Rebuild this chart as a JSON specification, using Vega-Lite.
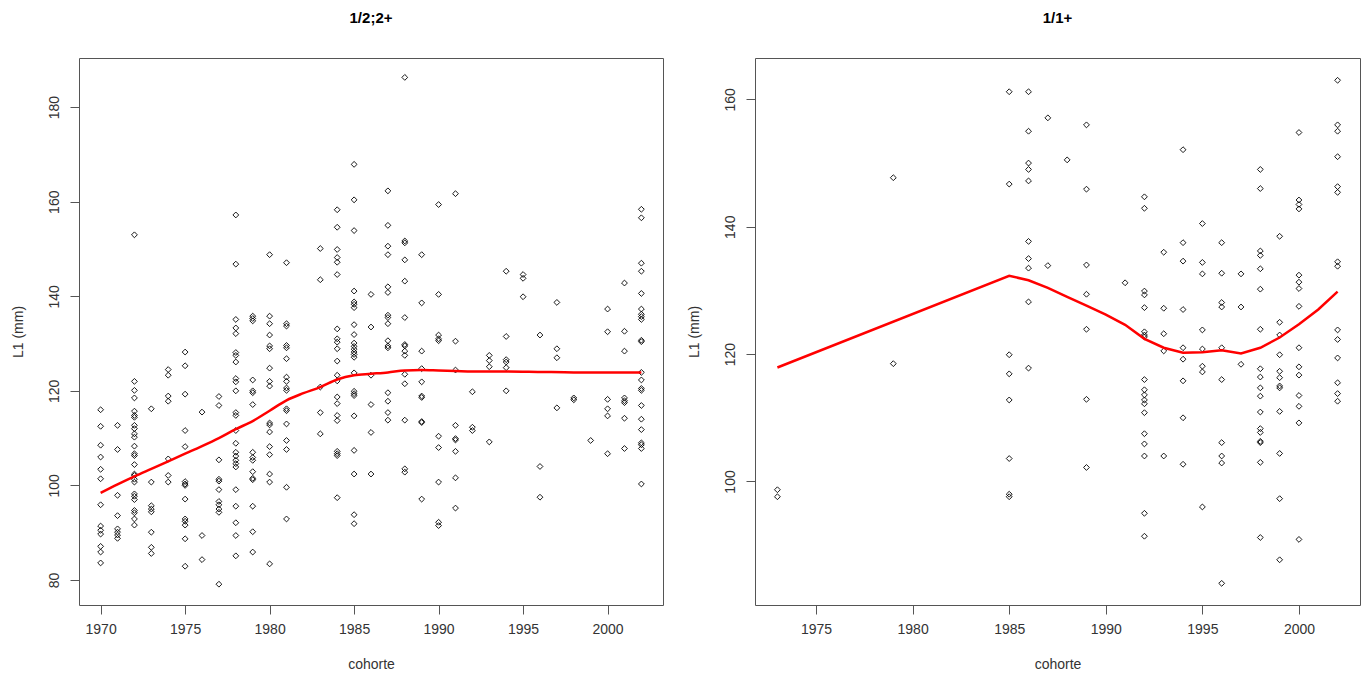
{
  "$schema": "https://vega.github.io/schema/vega-lite/v6.json",
  "background": "white",
  "padding": {"left": 10, "top": 10, "right": 5, "bottom": 5},
  "spacing": 92,
  "bounds": "flush",
  "config": {
    "view": {"stroke": "#555", "strokeWidth": 1},
    "font": "Liberation Sans",
    "axis": {
      "grid": false, "domain": false, "tickColor": "#555", "tickSize": 9,
      "labelFont": "Liberation Sans", "labelFontSize": 14, "labelColor": "#333",
      "titleFont": "Liberation Sans", "titleFontSize": 14, "titleFontWeight": "normal", "titleColor": "#333",
      "labelOverlap": false
    },
    "axisX": {"labelPadding": 8, "titlePadding": 21, "labelFlush": false},
    "axisY": {"labelAngle": -90, "labelAlign": "center", "labelBaseline": "bottom", "labelPadding": 9, "titlePadding": 22},
    "title": {"fontSize": 15, "fontWeight": "bold", "color": "#000", "font": "Liberation Sans", "baseline": "alphabetic", "offset": 32, "anchor": "middle", "frame": "group"}
  },
  "datasets": {
    "left": [
      {"cohorte":1970,"L1":116.0},{"cohorte":1970,"L1":112.5},{"cohorte":1970,"L1":108.5},{"cohorte":1970,"L1":106.0},{"cohorte":1970,"L1":103.4},{"cohorte":1970,"L1":101.4},{"cohorte":1970,"L1":95.9},{"cohorte":1970,"L1":91.4},{"cohorte":1970,"L1":90.5},{"cohorte":1970,"L1":89.7},{"cohorte":1970,"L1":87.1},{"cohorte":1970,"L1":85.9},{"cohorte":1970,"L1":83.6},
      {"cohorte":1971,"L1":112.7},{"cohorte":1971,"L1":107.6},{"cohorte":1971,"L1":97.9},{"cohorte":1971,"L1":93.6},{"cohorte":1971,"L1":90.8},{"cohorte":1971,"L1":90.1},{"cohorte":1971,"L1":89.5},{"cohorte":1971,"L1":88.8},
      {"cohorte":1972,"L1":153.0},{"cohorte":1972,"L1":122.0},{"cohorte":1972,"L1":120.1},{"cohorte":1972,"L1":118.5},{"cohorte":1972,"L1":115.7},{"cohorte":1972,"L1":114.8},{"cohorte":1972,"L1":114.4},{"cohorte":1972,"L1":112.7},{"cohorte":1972,"L1":112.0},{"cohorte":1972,"L1":110.9},{"cohorte":1972,"L1":110.2},{"cohorte":1972,"L1":108.3},{"cohorte":1972,"L1":106.7},{"cohorte":1972,"L1":106.3},{"cohorte":1972,"L1":104.4},{"cohorte":1972,"L1":102.4},{"cohorte":1972,"L1":102.1},{"cohorte":1972,"L1":101.3},{"cohorte":1972,"L1":100.7},{"cohorte":1972,"L1":98.2},{"cohorte":1972,"L1":97.7},{"cohorte":1972,"L1":97.0},{"cohorte":1972,"L1":94.7},{"cohorte":1972,"L1":94.2},{"cohorte":1972,"L1":92.9},{"cohorte":1972,"L1":91.6},
      {"cohorte":1973,"L1":116.2},{"cohorte":1973,"L1":100.7},{"cohorte":1973,"L1":95.7},{"cohorte":1973,"L1":95.0},{"cohorte":1973,"L1":94.4},{"cohorte":1973,"L1":90.1},{"cohorte":1973,"L1":86.9},{"cohorte":1973,"L1":85.6},
      {"cohorte":1974,"L1":124.5},{"cohorte":1974,"L1":123.3},{"cohorte":1974,"L1":118.9},{"cohorte":1974,"L1":117.8},{"cohorte":1974,"L1":105.6},{"cohorte":1974,"L1":102.1},{"cohorte":1974,"L1":100.7},
      {"cohorte":1975,"L1":128.2},{"cohorte":1975,"L1":125.3},{"cohorte":1975,"L1":119.3},{"cohorte":1975,"L1":111.6},{"cohorte":1975,"L1":108.2},{"cohorte":1975,"L1":100.8},{"cohorte":1975,"L1":100.3},{"cohorte":1975,"L1":100.0},{"cohorte":1975,"L1":97.1},{"cohorte":1975,"L1":92.9},{"cohorte":1975,"L1":92.4},{"cohorte":1975,"L1":91.6},{"cohorte":1975,"L1":88.7},{"cohorte":1975,"L1":82.9},
      {"cohorte":1976,"L1":115.5},{"cohorte":1976,"L1":89.4},{"cohorte":1976,"L1":84.3},
      {"cohorte":1977,"L1":118.8},{"cohorte":1977,"L1":116.9},{"cohorte":1977,"L1":105.4},{"cohorte":1977,"L1":101.3},{"cohorte":1977,"L1":100.9},{"cohorte":1977,"L1":99.1},{"cohorte":1977,"L1":96.6},{"cohorte":1977,"L1":95.9},{"cohorte":1977,"L1":95.0},{"cohorte":1977,"L1":94.3},{"cohorte":1977,"L1":79.1},
      {"cohorte":1978,"L1":157.2},{"cohorte":1978,"L1":146.8},{"cohorte":1978,"L1":135.1},{"cohorte":1978,"L1":133.3},{"cohorte":1978,"L1":132.1},{"cohorte":1978,"L1":128.1},{"cohorte":1978,"L1":127.5},{"cohorte":1978,"L1":126.1},{"cohorte":1978,"L1":122.6},{"cohorte":1978,"L1":121.9},{"cohorte":1978,"L1":120.0},{"cohorte":1978,"L1":115.4},{"cohorte":1978,"L1":114.8},{"cohorte":1978,"L1":111.6},{"cohorte":1978,"L1":108.9},{"cohorte":1978,"L1":107.0},{"cohorte":1978,"L1":106.2},{"cohorte":1978,"L1":105.3},{"cohorte":1978,"L1":104.6},{"cohorte":1978,"L1":103.9},{"cohorte":1978,"L1":99.1},{"cohorte":1978,"L1":95.6},{"cohorte":1978,"L1":92.1},{"cohorte":1978,"L1":89.4},{"cohorte":1978,"L1":85.1},
      {"cohorte":1979,"L1":135.8},{"cohorte":1979,"L1":135.3},{"cohorte":1979,"L1":134.8},{"cohorte":1979,"L1":122.3},{"cohorte":1979,"L1":120.0},{"cohorte":1979,"L1":119.6},{"cohorte":1979,"L1":117.1},{"cohorte":1979,"L1":107.0},{"cohorte":1979,"L1":105.9},{"cohorte":1979,"L1":105.3},{"cohorte":1979,"L1":102.9},{"cohorte":1979,"L1":101.5},{"cohorte":1979,"L1":101.2},{"cohorte":1979,"L1":95.6},{"cohorte":1979,"L1":90.2},{"cohorte":1979,"L1":85.9},
      {"cohorte":1980,"L1":148.8},{"cohorte":1980,"L1":135.8},{"cohorte":1980,"L1":134.2},{"cohorte":1980,"L1":131.8},{"cohorte":1980,"L1":129.5},{"cohorte":1980,"L1":128.9},{"cohorte":1980,"L1":124.8},{"cohorte":1980,"L1":122.0},{"cohorte":1980,"L1":121.0},{"cohorte":1980,"L1":113.2},{"cohorte":1980,"L1":112.8},{"cohorte":1980,"L1":111.3},{"cohorte":1980,"L1":108.2},{"cohorte":1980,"L1":106.5},{"cohorte":1980,"L1":102.4},{"cohorte":1980,"L1":100.7},{"cohorte":1980,"L1":83.4},
      {"cohorte":1981,"L1":147.1},{"cohorte":1981,"L1":134.2},{"cohorte":1981,"L1":133.7},{"cohorte":1981,"L1":129.6},{"cohorte":1981,"L1":129.1},{"cohorte":1981,"L1":126.8},{"cohorte":1981,"L1":122.9},{"cohorte":1981,"L1":122.0},{"cohorte":1981,"L1":120.6},{"cohorte":1981,"L1":120.1},{"cohorte":1981,"L1":116.2},{"cohorte":1981,"L1":115.8},{"cohorte":1981,"L1":113.0},{"cohorte":1981,"L1":109.5},{"cohorte":1981,"L1":107.6},{"cohorte":1981,"L1":99.6},{"cohorte":1981,"L1":92.9},
      {"cohorte":1983,"L1":150.1},{"cohorte":1983,"L1":143.5},{"cohorte":1983,"L1":120.8},{"cohorte":1983,"L1":115.4},{"cohorte":1983,"L1":110.9},
      {"cohorte":1984,"L1":158.3},{"cohorte":1984,"L1":154.6},{"cohorte":1984,"L1":149.9},{"cohorte":1984,"L1":148.2},{"cohorte":1984,"L1":147.2},{"cohorte":1984,"L1":144.6},{"cohorte":1984,"L1":133.1},{"cohorte":1984,"L1":131.0},{"cohorte":1984,"L1":130.3},{"cohorte":1984,"L1":128.9},{"cohorte":1984,"L1":126.3},{"cohorte":1984,"L1":123.3},{"cohorte":1984,"L1":122.1},{"cohorte":1984,"L1":118.7},{"cohorte":1984,"L1":117.3},{"cohorte":1984,"L1":114.8},{"cohorte":1984,"L1":113.7},{"cohorte":1984,"L1":107.2},{"cohorte":1984,"L1":106.7},{"cohorte":1984,"L1":106.3},{"cohorte":1984,"L1":97.4},
      {"cohorte":1985,"L1":167.9},{"cohorte":1985,"L1":160.4},{"cohorte":1985,"L1":153.9},{"cohorte":1985,"L1":141.1},{"cohorte":1985,"L1":138.8},{"cohorte":1985,"L1":138.3},{"cohorte":1985,"L1":137.6},{"cohorte":1985,"L1":134.0},{"cohorte":1985,"L1":131.9},{"cohorte":1985,"L1":130.1},{"cohorte":1985,"L1":129.4},{"cohorte":1985,"L1":128.8},{"cohorte":1985,"L1":128.2},{"cohorte":1985,"L1":127.7},{"cohorte":1985,"L1":127.1},{"cohorte":1985,"L1":123.8},{"cohorte":1985,"L1":119.9},{"cohorte":1985,"L1":119.4},{"cohorte":1985,"L1":119.0},{"cohorte":1985,"L1":114.7},{"cohorte":1985,"L1":107.4},{"cohorte":1985,"L1":102.4},{"cohorte":1985,"L1":93.8},{"cohorte":1985,"L1":91.9},
      {"cohorte":1986,"L1":140.4},{"cohorte":1986,"L1":133.5},{"cohorte":1986,"L1":123.3},{"cohorte":1986,"L1":117.1},{"cohorte":1986,"L1":111.2},{"cohorte":1986,"L1":102.4},
      {"cohorte":1987,"L1":162.3},{"cohorte":1987,"L1":155.0},{"cohorte":1987,"L1":150.6},{"cohorte":1987,"L1":148.8},{"cohorte":1987,"L1":142.0},{"cohorte":1987,"L1":140.8},{"cohorte":1987,"L1":136.0},{"cohorte":1987,"L1":135.5},{"cohorte":1987,"L1":134.2},{"cohorte":1987,"L1":130.6},{"cohorte":1987,"L1":129.5},{"cohorte":1987,"L1":129.1},{"cohorte":1987,"L1":119.6},{"cohorte":1987,"L1":117.8},{"cohorte":1987,"L1":115.4},{"cohorte":1987,"L1":113.8},
      {"cohorte":1988,"L1":186.3},{"cohorte":1988,"L1":151.7},{"cohorte":1988,"L1":151.3},{"cohorte":1988,"L1":147.7},{"cohorte":1988,"L1":143.2},{"cohorte":1988,"L1":135.5},{"cohorte":1988,"L1":129.8},{"cohorte":1988,"L1":129.5},{"cohorte":1988,"L1":128.4},{"cohorte":1988,"L1":127.5},{"cohorte":1988,"L1":123.5},{"cohorte":1988,"L1":121.5},{"cohorte":1988,"L1":113.8},{"cohorte":1988,"L1":103.5},{"cohorte":1988,"L1":102.8},
      {"cohorte":1989,"L1":148.8},{"cohorte":1989,"L1":138.6},{"cohorte":1989,"L1":128.4},{"cohorte":1989,"L1":124.7},{"cohorte":1989,"L1":121.9},{"cohorte":1989,"L1":118.9},{"cohorte":1989,"L1":118.6},{"cohorte":1989,"L1":113.5},{"cohorte":1989,"L1":113.3},{"cohorte":1989,"L1":97.1},
      {"cohorte":1990,"L1":159.4},{"cohorte":1990,"L1":140.4},{"cohorte":1990,"L1":131.8},{"cohorte":1990,"L1":131.0},{"cohorte":1990,"L1":130.6},{"cohorte":1990,"L1":110.4},{"cohorte":1990,"L1":108.0},{"cohorte":1990,"L1":100.7},{"cohorte":1990,"L1":92.2},{"cohorte":1990,"L1":91.5},
      {"cohorte":1991,"L1":161.7},{"cohorte":1991,"L1":130.5},{"cohorte":1991,"L1":124.4},{"cohorte":1991,"L1":112.7},{"cohorte":1991,"L1":109.9},{"cohorte":1991,"L1":109.6},{"cohorte":1991,"L1":107.2},{"cohorte":1991,"L1":101.6},{"cohorte":1991,"L1":95.2},
      {"cohorte":1992,"L1":119.8},{"cohorte":1992,"L1":112.3},{"cohorte":1992,"L1":111.6},
      {"cohorte":1993,"L1":127.5},{"cohorte":1993,"L1":126.4},{"cohorte":1993,"L1":125.1},{"cohorte":1993,"L1":109.2},
      {"cohorte":1994,"L1":145.3},{"cohorte":1994,"L1":131.5},{"cohorte":1994,"L1":126.6},{"cohorte":1994,"L1":126.1},{"cohorte":1994,"L1":124.9},{"cohorte":1994,"L1":120.0},
      {"cohorte":1995,"L1":144.6},{"cohorte":1995,"L1":143.8},{"cohorte":1995,"L1":139.9},
      {"cohorte":1996,"L1":131.8},{"cohorte":1996,"L1":104.0},{"cohorte":1996,"L1":97.5},
      {"cohorte":1997,"L1":138.7},{"cohorte":1997,"L1":128.9},{"cohorte":1997,"L1":127.0},{"cohorte":1997,"L1":116.4},
      {"cohorte":1998,"L1":118.5},{"cohorte":1998,"L1":118.1},
      {"cohorte":1999,"L1":109.5},
      {"cohorte":2000,"L1":137.3},{"cohorte":2000,"L1":132.5},{"cohorte":2000,"L1":118.2},{"cohorte":2000,"L1":116.2},{"cohorte":2000,"L1":114.7},{"cohorte":2000,"L1":106.7},
      {"cohorte":2001,"L1":142.8},{"cohorte":2001,"L1":132.6},{"cohorte":2001,"L1":128.4},{"cohorte":2001,"L1":118.5},{"cohorte":2001,"L1":117.9},{"cohorte":2001,"L1":117.5},{"cohorte":2001,"L1":114.2},{"cohorte":2001,"L1":107.8},
      {"cohorte":2002,"L1":158.4},{"cohorte":2002,"L1":156.6},{"cohorte":2002,"L1":147.0},{"cohorte":2002,"L1":145.3},{"cohorte":2002,"L1":140.6},{"cohorte":2002,"L1":137.3},{"cohorte":2002,"L1":136.2},{"cohorte":2002,"L1":135.7},{"cohorte":2002,"L1":135.1},{"cohorte":2002,"L1":130.7},{"cohorte":2002,"L1":130.4},{"cohorte":2002,"L1":123.9},{"cohorte":2002,"L1":122.3},{"cohorte":2002,"L1":120.5},{"cohorte":2002,"L1":120.1},{"cohorte":2002,"L1":116.9},{"cohorte":2002,"L1":114.0},{"cohorte":2002,"L1":111.8},{"cohorte":2002,"L1":109.0},{"cohorte":2002,"L1":108.6},{"cohorte":2002,"L1":107.8},{"cohorte":2002,"L1":100.3}
    ],
    "leftfit": [
      {"cohorte":1970,"L1":98.4},{"cohorte":1971,"L1":100.2},{"cohorte":1972,"L1":101.9},{"cohorte":1973,"L1":103.5},{"cohorte":1974,"L1":105.1},{"cohorte":1975,"L1":106.7},{"cohorte":1976,"L1":108.3},{"cohorte":1977,"L1":110.0},{"cohorte":1978,"L1":111.9},{"cohorte":1979,"L1":113.6},{"cohorte":1980,"L1":115.8},{"cohorte":1981,"L1":118.0},{"cohorte":1982,"L1":119.5},{"cohorte":1983,"L1":120.8},{"cohorte":1984,"L1":122.4},{"cohorte":1985,"L1":123.3},{"cohorte":1986,"L1":123.6},{"cohorte":1987,"L1":123.9},{"cohorte":1988,"L1":124.3},{"cohorte":1989,"L1":124.4},{"cohorte":1990,"L1":124.3},{"cohorte":1991,"L1":124.2},{"cohorte":1992,"L1":124.1},{"cohorte":1994,"L1":124.1},{"cohorte":1996,"L1":124.0},{"cohorte":1998,"L1":123.9},{"cohorte":2000,"L1":123.9},{"cohorte":2002,"L1":123.9}
    ],
    "right": [
      {"cohorte":1973,"L1":98.7},{"cohorte":1973,"L1":97.6},
      {"cohorte":1979,"L1":147.7},{"cohorte":1979,"L1":118.5},
      {"cohorte":1985,"L1":161.2},{"cohorte":1985,"L1":146.7},{"cohorte":1985,"L1":119.9},{"cohorte":1985,"L1":116.9},{"cohorte":1985,"L1":112.8},{"cohorte":1985,"L1":103.6},{"cohorte":1985,"L1":98.0},{"cohorte":1985,"L1":97.6},
      {"cohorte":1986,"L1":161.2},{"cohorte":1986,"L1":155.0},{"cohorte":1986,"L1":150.0},{"cohorte":1986,"L1":149.0},{"cohorte":1986,"L1":147.2},{"cohorte":1986,"L1":137.7},{"cohorte":1986,"L1":135.0},{"cohorte":1986,"L1":133.5},{"cohorte":1986,"L1":128.2},{"cohorte":1986,"L1":117.8},
      {"cohorte":1987,"L1":157.1},{"cohorte":1987,"L1":133.9},
      {"cohorte":1988,"L1":150.5},
      {"cohorte":1989,"L1":156.0},{"cohorte":1989,"L1":145.9},{"cohorte":1989,"L1":134.0},{"cohorte":1989,"L1":129.4},{"cohorte":1989,"L1":123.9},{"cohorte":1989,"L1":112.9},{"cohorte":1989,"L1":102.2},
      {"cohorte":1991,"L1":131.2},
      {"cohorte":1992,"L1":144.7},{"cohorte":1992,"L1":142.9},{"cohorte":1992,"L1":129.9},{"cohorte":1992,"L1":129.3},{"cohorte":1992,"L1":127.3},{"cohorte":1992,"L1":123.5},{"cohorte":1992,"L1":123.0},{"cohorte":1992,"L1":122.7},{"cohorte":1992,"L1":116.0},{"cohorte":1992,"L1":114.4},{"cohorte":1992,"L1":113.6},{"cohorte":1992,"L1":112.8},{"cohorte":1992,"L1":112.2},{"cohorte":1992,"L1":110.8},{"cohorte":1992,"L1":107.5},{"cohorte":1992,"L1":105.9},{"cohorte":1992,"L1":104.0},{"cohorte":1992,"L1":95.0},{"cohorte":1992,"L1":91.4},
      {"cohorte":1993,"L1":136.0},{"cohorte":1993,"L1":127.2},{"cohorte":1993,"L1":123.2},{"cohorte":1993,"L1":120.5},{"cohorte":1993,"L1":104.0},
      {"cohorte":1994,"L1":152.1},{"cohorte":1994,"L1":137.5},{"cohorte":1994,"L1":134.6},{"cohorte":1994,"L1":127.0},{"cohorte":1994,"L1":121.0},{"cohorte":1994,"L1":119.2},{"cohorte":1994,"L1":115.8},{"cohorte":1994,"L1":110.0},{"cohorte":1994,"L1":102.7},
      {"cohorte":1995,"L1":140.5},{"cohorte":1995,"L1":134.4},{"cohorte":1995,"L1":132.6},{"cohorte":1995,"L1":123.8},{"cohorte":1995,"L1":120.8},{"cohorte":1995,"L1":118.1},{"cohorte":1995,"L1":117.2},{"cohorte":1995,"L1":96.0},
      {"cohorte":1996,"L1":137.5},{"cohorte":1996,"L1":132.7},{"cohorte":1996,"L1":128.1},{"cohorte":1996,"L1":127.4},{"cohorte":1996,"L1":121.0},{"cohorte":1996,"L1":116.0},{"cohorte":1996,"L1":106.1},{"cohorte":1996,"L1":104.0},{"cohorte":1996,"L1":102.9},{"cohorte":1996,"L1":84.0},
      {"cohorte":1997,"L1":132.6},{"cohorte":1997,"L1":127.4},{"cohorte":1997,"L1":118.4},
      {"cohorte":1998,"L1":149.0},{"cohorte":1998,"L1":146.0},{"cohorte":1998,"L1":136.2},{"cohorte":1998,"L1":135.5},{"cohorte":1998,"L1":133.4},{"cohorte":1998,"L1":130.2},{"cohorte":1998,"L1":123.9},{"cohorte":1998,"L1":117.7},{"cohorte":1998,"L1":116.4},{"cohorte":1998,"L1":114.7},{"cohorte":1998,"L1":113.4},{"cohorte":1998,"L1":110.9},{"cohorte":1998,"L1":108.3},{"cohorte":1998,"L1":107.7},{"cohorte":1998,"L1":106.3},{"cohorte":1998,"L1":106.1},{"cohorte":1998,"L1":103.0},{"cohorte":1998,"L1":91.2},
      {"cohorte":1999,"L1":138.5},{"cohorte":1999,"L1":125.0},{"cohorte":1999,"L1":123.0},{"cohorte":1999,"L1":119.9},{"cohorte":1999,"L1":117.3},{"cohorte":1999,"L1":116.3},{"cohorte":1999,"L1":115.0},{"cohorte":1999,"L1":114.7},{"cohorte":1999,"L1":111.0},{"cohorte":1999,"L1":104.4},{"cohorte":1999,"L1":97.3},{"cohorte":1999,"L1":87.7},
      {"cohorte":2000,"L1":154.8},{"cohorte":2000,"L1":144.2},{"cohorte":2000,"L1":143.5},{"cohorte":2000,"L1":142.8},{"cohorte":2000,"L1":132.4},{"cohorte":2000,"L1":131.3},{"cohorte":2000,"L1":130.3},{"cohorte":2000,"L1":127.5},{"cohorte":2000,"L1":121.0},{"cohorte":2000,"L1":118.0},{"cohorte":2000,"L1":116.7},{"cohorte":2000,"L1":113.5},{"cohorte":2000,"L1":111.8},{"cohorte":2000,"L1":109.2},{"cohorte":2000,"L1":90.9},
      {"cohorte":2002,"L1":163.0},{"cohorte":2002,"L1":156.0},{"cohorte":2002,"L1":155.0},{"cohorte":2002,"L1":151.0},{"cohorte":2002,"L1":146.3},{"cohorte":2002,"L1":145.4},{"cohorte":2002,"L1":134.5},{"cohorte":2002,"L1":133.8},{"cohorte":2002,"L1":123.8},{"cohorte":2002,"L1":122.3},{"cohorte":2002,"L1":119.4},{"cohorte":2002,"L1":115.5},{"cohorte":2002,"L1":113.8},{"cohorte":2002,"L1":112.6}
    ],
    "rightfit": [
      {"cohorte":1973,"L1":117.9},{"cohorte":1985,"L1":132.3},{"cohorte":1986,"L1":131.6},{"cohorte":1987,"L1":130.4},{"cohorte":1988,"L1":129.0},{"cohorte":1989,"L1":127.6},{"cohorte":1990,"L1":126.2},{"cohorte":1991,"L1":124.6},{"cohorte":1992,"L1":122.4},{"cohorte":1993,"L1":121.0},{"cohorte":1994,"L1":120.2},{"cohorte":1995,"L1":120.3},{"cohorte":1996,"L1":120.6},{"cohorte":1997,"L1":120.1},{"cohorte":1998,"L1":121.0},{"cohorte":1999,"L1":122.6},{"cohorte":2000,"L1":124.7},{"cohorte":2001,"L1":127.0},{"cohorte":2002,"L1":129.8}
    ]
  },
  "hconcat": [
    {
      "width": 584,
      "height": 547,
      "title": "1/2;2+",
      "encoding": {
        "x": {"field": "cohorte", "type": "quantitative", "title": "cohorte",
              "scale": {"domain": [1968.72, 2003.28], "nice": false, "zero": false},
              "axis": {"values": [1970, 1975, 1980, 1985, 1990, 1995, 2000], "format": "d"}},
        "y": {"field": "L1", "type": "quantitative", "title": "L1 (mm)",
              "scale": {"domain": [74.7, 190.4], "nice": false, "zero": false},
              "axis": {"values": [80, 100, 120, 140, 160, 180], "format": "d"}}
      },
      "layer": [
        {"data": {"name": "left"},
         "mark": {"type": "point", "shape": "diamond", "filled": false, "stroke": "black", "strokeWidth": 0.9, "size": 34, "opacity": 1}},
        {"data": {"name": "leftfit"},
         "mark": {"type": "line", "color": "red", "strokeWidth": 2.5, "interpolate": "monotone"}}
      ]
    },
    {
      "width": 605,
      "height": 547,
      "title": "1/1+",
      "encoding": {
        "x": {"field": "cohorte", "type": "quantitative", "title": "cohorte",
              "scale": {"domain": [1971.84, 2003.16], "nice": false, "zero": false},
              "axis": {"values": [1975, 1980, 1985, 1990, 1995, 2000], "format": "d"}},
        "y": {"field": "L1", "type": "quantitative", "title": "L1 (mm)",
              "scale": {"domain": [80.6, 166.5], "nice": false, "zero": false},
              "axis": {"values": [100, 120, 140, 160], "format": "d"}}
      },
      "layer": [
        {"data": {"name": "right"},
         "mark": {"type": "point", "shape": "diamond", "filled": false, "stroke": "black", "strokeWidth": 0.9, "size": 34, "opacity": 1}},
        {"data": {"name": "rightfit"},
         "mark": {"type": "line", "color": "red", "strokeWidth": 2.5}}
      ]
    }
  ]
}
